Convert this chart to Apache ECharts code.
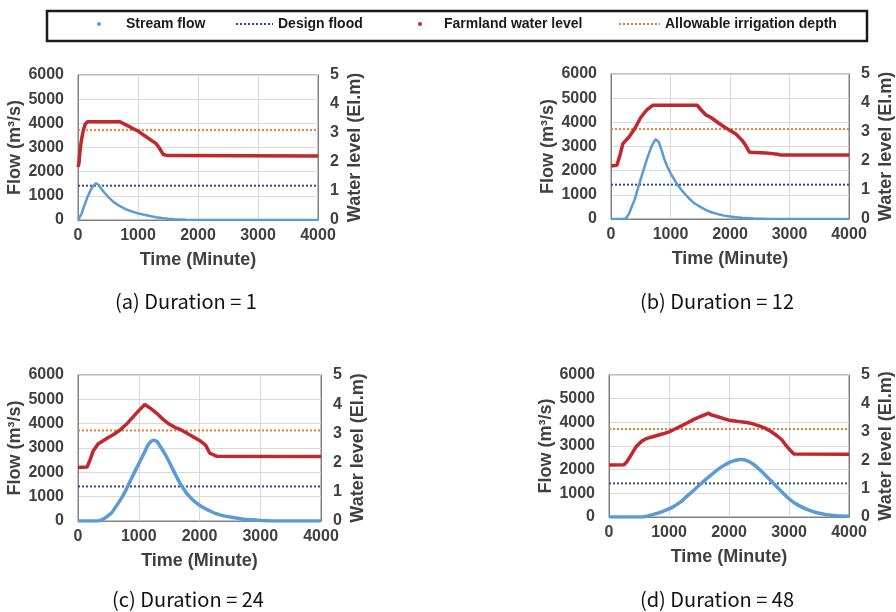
<!DOCTYPE html>
<html>
<head>
<meta charset="utf-8">
<script src="https://cdn.jsdelivr.net/npm/echarts@6/dist/echarts.min.js"></script>
<style>
  html, body { margin: 0; background: #fff; }
  #main { width: 896px; height: 612px; }
</style>
</head>
<body>
<div id="main"></div>
<script>
// one chart, four panels (a)-(d)
const chart = echarts.init(document.getElementById('main'));

// horizontal reference levels
const designFlood = 1420;     // m3/s, left axis
const allowableDepth = 3.1;   // El.m, right axis

// [time (min), flow (m3/s)] and [time (min), water level (El.m)]
const flowA = [[0,0],[30,20],[60,250],[100,560],[150,900],[200,1180],[250,1400],[300,1520],[340,1460],[400,1250],[500,960],[600,730],[700,570],[800,440],[900,350],[1000,275],[1100,215],[1200,165],[1300,115],[1400,80],[1500,55],[1600,35],[1800,15],[2000,5],[2200,0],[4000,0]];
const levelA = [[0,1.83],[15,1.95],[30,2.3],[50,2.65],[70,2.9],[90,3.1],[120,3.3],[160,3.39],[700,3.39],[800,3.28],[900,3.17],[1000,3.07],[1100,2.92],[1200,2.78],[1300,2.64],[1350,2.5],[1420,2.26],[1500,2.22],[4000,2.21]];

const flowB = [[0,0],[200,0],[250,20],[300,200],[350,520],[400,820],[450,1250],[500,1650],[550,2050],[600,2450],[650,2800],[700,3100],[750,3300],[800,3200],[850,2850],[900,2450],[950,2150],[1000,1900],[1100,1480],[1200,1150],[1300,880],[1400,650],[1500,500],[1600,370],[1700,270],[1800,200],[1900,140],[2000,100],[2100,75],[2200,50],[2400,25],[2600,10],[2800,0],[4000,0]];
const levelB = [[0,1.83],[100,1.85],[150,2.2],[200,2.6],[300,2.82],[400,3.12],[500,3.5],[600,3.76],[700,3.92],[1450,3.92],[1520,3.75],[1600,3.58],[1680,3.5],[1800,3.32],[1900,3.18],[2000,3.05],[2100,2.93],[2200,2.72],[2260,2.55],[2330,2.3],[2600,2.28],[2800,2.23],[2850,2.21],[4000,2.21]];

const flowC = [[0,0],[330,0],[400,60],[470,170],[550,330],[600,500],[700,880],[750,1080],[800,1330],[900,1850],[1000,2350],[1100,2850],[1160,3150],[1240,3320],[1300,3260],[1350,3080],[1400,2880],[1460,2630],[1550,2180],[1600,1930],[1700,1460],[1750,1280],[1800,1100],[1900,840],[2000,650],[2100,500],[2200,380],[2300,280],[2400,210],[2550,140],[2700,85],[2850,50],[3000,25],[3200,5],[3300,0],[4000,0]];
const levelC = [[0,1.83],[150,1.85],[200,2.1],[250,2.4],[330,2.64],[400,2.73],[500,2.86],[600,2.98],[700,3.13],[800,3.32],[900,3.55],[1000,3.78],[1100,3.99],[1200,3.85],[1300,3.68],[1400,3.48],[1500,3.32],[1600,3.2],[1700,3.12],[1800,3.0],[1900,2.88],[2000,2.76],[2100,2.6],[2170,2.32],[2280,2.22],[4000,2.21]];

const flowD = [[0,0],[550,0],[650,40],[800,150],[900,240],[1000,340],[1100,480],[1200,650],[1300,880],[1400,1100],[1500,1330],[1600,1560],[1700,1770],[1800,1980],[1900,2160],[2000,2300],[2100,2390],[2200,2430],[2300,2380],[2400,2240],[2500,2030],[2600,1790],[2700,1530],[2800,1270],[2900,1010],[3000,770],[3100,580],[3200,440],[3300,320],[3400,230],[3500,160],[3600,110],[3700,75],[3800,55],[3900,40],[4000,30]];
const levelD = [[0,1.83],[250,1.84],[300,1.95],[350,2.12],[450,2.47],[540,2.66],[600,2.74],[700,2.81],[800,2.87],[900,2.93],[1000,3.0],[1100,3.1],[1200,3.2],[1300,3.31],[1400,3.42],[1500,3.52],[1600,3.6],[1660,3.66],[1700,3.6],[1800,3.54],[1900,3.47],[2000,3.41],[2100,3.38],[2200,3.35],[2300,3.33],[2400,3.28],[2500,3.21],[2600,3.13],[2700,3.01],[2800,2.86],[2880,2.72],[2950,2.52],[3000,2.4],[3080,2.22],[4000,2.21]];

const captions = ['(a) Duration = 1', '(b) Duration = 12', '(c) Duration = 24', '(d) Duration = 48'];

const panels = [
  { flow: flowA, level: levelA, grid: { left: 78, top: 75, width: 240, height: 145 }, cap: [186, 301], flowWidth: 2.5, smooth: false },
  { flow: flowB, level: levelB, grid: { left: 611, top: 74, width: 241, height: 145 }, cap: [717, 301], flowWidth: 2.5, smooth: false },
  { flow: flowC, level: levelC, grid: { left: 78, top: 375, width: 243, height: 146 }, cap: [188, 599], flowWidth: 3.5, smooth: 0.3 },
  { flow: flowD, level: levelD, grid: { left: 609, top: 375, width: 242, height: 142 }, cap: [717, 599], flowWidth: 3.5, smooth: 0.3 }
];

const blue = '#5b9bd5';
const navy = '#2f4d8f';
const red = '#c1272d';
const orange = '#ed7d31';
const axisFont = { fontFamily: 'Liberation Sans', fontWeight: 'bold', color: '#404040' };
const plain = v => String(v);

const grid = [], xAxis = [], yAxis = [], series = [], graphic = [];

panels.forEach((p, i) => {
  grid.push(Object.assign({ show: true, borderColor: '#808080', borderWidth: 1 }, p.grid));
  xAxis.push({
    type: 'value', gridIndex: i, min: 0, max: 4000, interval: 1000,
    name: 'Time (Minute)', nameLocation: 'middle', nameGap: 31,
    nameTextStyle: Object.assign({ fontSize: 18 }, axisFont),
    axisLine: { show: true, lineStyle: { color: '#808080' } },
    axisTick: { show: false },
    axisLabel: Object.assign({ fontSize: 16, margin: 8, formatter: plain }, axisFont),
    splitLine: { show: true, lineStyle: { color: '#d9d9d9' } }
  });
  yAxis.push({
    type: 'value', gridIndex: i, min: 0, max: 6000, interval: 1000,
    name: 'Flow (m³/s)', nameLocation: 'middle', nameGap: 47, nameRotate: 90,
    nameTextStyle: Object.assign({ fontSize: 18 }, axisFont),
    axisLine: { show: true, lineStyle: { color: '#808080' } },
    axisTick: { show: false },
    axisLabel: Object.assign({ fontSize: 16, margin: 14, formatter: plain }, axisFont),
    splitLine: { show: true, lineStyle: { color: '#d9d9d9' } }
  });
  yAxis.push({
    type: 'value', gridIndex: i, position: 'right', min: 0, max: 5, interval: 1,
    name: 'Water level (El.m)', nameLocation: 'middle', nameGap: 28, nameRotate: 90,
    nameTextStyle: Object.assign({ fontSize: 18 }, axisFont),
    axisLine: { show: true, lineStyle: { color: '#808080' } },
    axisTick: { show: false },
    axisLabel: Object.assign({ fontSize: 16, margin: 12 }, axisFont),
    splitLine: { show: false }
  });

  series.push({
    name: 'Stream flow', type: 'line', xAxisIndex: i, yAxisIndex: 2 * i,
    data: p.flow, symbol: 'none', smooth: p.smooth, itemStyle: { color: blue },
    lineStyle: { color: blue, width: p.flowWidth }, z: 3
  });
  series.push({
    name: 'Design flood', type: 'line', xAxisIndex: i, yAxisIndex: 2 * i,
    data: [[0, designFlood], [4000, designFlood]], symbol: 'none',
    itemStyle: { color: navy }, lineStyle: { color: navy, width: 2, type: 'dotted' }, z: 2
  });
  series.push({
    name: 'Farmland water level', type: 'line', xAxisIndex: i, yAxisIndex: 2 * i + 1,
    data: p.level, symbol: 'none', itemStyle: { color: red },
    lineStyle: { color: red, width: 3.5 }, z: 4
  });
  series.push({
    name: 'Allowable irrigation depth', type: 'line', xAxisIndex: i, yAxisIndex: 2 * i + 1,
    data: [[0, allowableDepth], [4000, allowableDepth]], symbol: 'none',
    itemStyle: { color: orange }, lineStyle: { color: orange, width: 2, type: 'dotted' }, z: 2
  });

  graphic.push({
    type: 'text', silent: true,
    style: {
      text: captions[i], x: p.cap[0], y: p.cap[1], align: 'center', verticalAlign: 'middle',
      font: '20px "Noto Sans CJK KR"', fill: '#111'
    }
  });
});

graphic.push({
  type: 'rect', silent: true,
  shape: { x: 47, y: 11, width: 820, height: 30 },
  style: { fill: 'none', stroke: '#1a1a1a', lineWidth: 2.5 }
});

const legendText = { fontFamily: 'Liberation Sans', fontWeight: 'bold', fontSize: 14, color: '#1a1a1a' };
const legend = [
  { left: 97, itemWidth: 44, itemHeight: 4, data: [{ name: 'Stream flow', icon: 'circle' }] },
  { left: 235, itemWidth: 37, itemHeight: 14, itemStyle: { opacity: 0 }, data: ['Design flood'] },
  { left: 418, itemWidth: 38, itemHeight: 4, data: [{ name: 'Farmland water level', icon: 'circle' }] },
  { left: 618, itemWidth: 41, itemHeight: 14, itemStyle: { opacity: 0 }, data: ['Allowable irrigation depth'] }
].map(l => Object.assign({ top: 17, padding: 0, selectedMode: false, textStyle: legendText }, l));

chart.setOption({
  animation: false,
  backgroundColor: '#fff',
  legend: legend,
  grid: grid,
  xAxis: xAxis,
  yAxis: yAxis,
  series: series,
  graphic: graphic
});
</script>
</body>
</html>
